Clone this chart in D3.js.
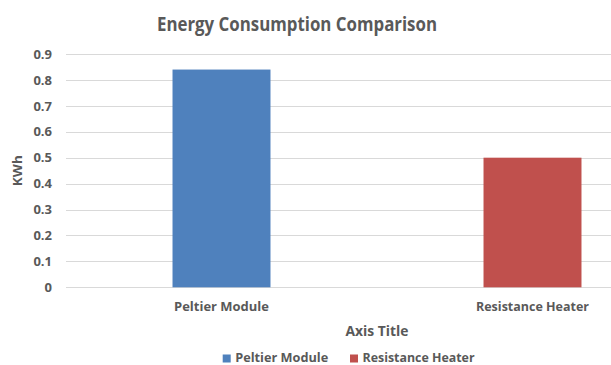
<!DOCTYPE html>
<html>
<head>
<meta charset="utf-8">
<script src="https://cdn.jsdelivr.net/npm/d3@7"></script>
<style>
  html, body { margin: 0; padding: 0; background: #ffffff; }
  svg { display: block; }
  text { font-family: "Open Sans", "Noto Sans", sans-serif; fill: #595959; }
</style>
</head>
<body>
<svg id="chart" width="611" height="365"></svg>
<script>
// Energy use per heating method, in kWh
const categories = ["Peltier Module", "Resistance Heater"];
const values = [0.84, 0.5];
const seriesColors = ["#4f81bd", "#c0504d"];
const yTicks = [0, 0.1, 0.2, 0.3, 0.4, 0.5, 0.6, 0.7, 0.8, 0.9];
const titleText = "Energy Consumption Comparison";
const yAxisTitle = "KWh";
const xAxisTitle = "Axis Title";

const svg = d3.select("#chart");

// Plot area (the right side runs past the visible frame)
const plot = { left: 66, right: 688, top: 54, bottom: 287.3 };

const x = d3.scaleBand()
  .domain(categories)
  .range([plot.left, plot.right])
  .paddingInner(0.685)
  .paddingOuter(0.3425);

const y = d3.scaleLinear()
  .domain([0, 0.9])
  .range([plot.bottom, plot.top]);

// Horizontal gridlines
svg.append("g")
  .selectAll("line")
  .data(yTicks)
  .join("line")
  .attr("x1", plot.left)
  .attr("x2", plot.right)
  .attr("y1", d => Math.round(y(d)) + 0.5)
  .attr("y2", d => Math.round(y(d)) + 0.5)
  .attr("stroke", "#d9d9d9")
  .attr("stroke-width", 1);

// Y axis tick labels
const yAxis = d3.axisLeft(y)
  .tickValues(yTicks)
  .tickFormat(d => d === 0 ? "0" : d3.format(".1f")(d))
  .tickSize(0)
  .tickPadding(14);

const gy = svg.append("g")
  .attr("transform", `translate(${plot.left},0)`)
  .call(yAxis);
gy.select(".domain").remove();
gy.selectAll("text")
  .attr("font-size", 13)
  .attr("font-weight", 700)
  .attr("fill", "#595959")
  .attr("font-family", "'Open Sans', sans-serif");

// Bars
svg.append("g")
  .selectAll("rect")
  .data(categories)
  .join("rect")
  .attr("x", d => x(d))
  .attr("width", x.bandwidth())
  .attr("y", (d, i) => y(values[i]))
  .attr("height", (d, i) => plot.bottom - y(values[i]))
  .attr("fill", (d, i) => seriesColors[i]);

// X axis category labels
const xAxis = d3.axisBottom(x).tickSize(0).tickPadding(15);
const gx = svg.append("g")
  .attr("transform", `translate(0,${plot.bottom})`)
  .call(xAxis);
gx.select(".domain").remove();
gx.selectAll("text")
  .attr("font-size", 12.5)
  .attr("font-weight", 700)
  .attr("fill", "#595959")
  .attr("font-family", "'Open Sans', sans-serif")
  .attr("textLength", d => d === "Peltier Module" ? 95 : 113)
  .attr("lengthAdjust", "spacingAndGlyphs");

// Chart title
svg.append("text")
  .attr("x", 297)
  .attr("y", 30.5)
  .attr("text-anchor", "middle")
  .attr("font-size", 19)
  .attr("font-weight", 700)
  .attr("textLength", 280)
  .attr("lengthAdjust", "spacingAndGlyphs")
  .text(titleText);

// Y axis title
svg.append("text")
  .attr("transform", `translate(22,${(plot.top + plot.bottom) / 2}) rotate(-90)`)
  .attr("text-anchor", "middle")
  .attr("font-size", 13)
  .attr("font-weight", 700)
  .attr("textLength", 31)
  .attr("lengthAdjust", "spacingAndGlyphs")
  .text(yAxisTitle);

// X axis title
svg.append("text")
  .attr("x", (plot.left + plot.right) / 2)
  .attr("y", 336)
  .attr("text-anchor", "middle")
  .attr("font-size", 13.5)
  .attr("font-weight", 700)
  .attr("textLength", 63)
  .attr("lengthAdjust", "spacingAndGlyphs")
  .text(xAxisTitle);

// Legend
const legendItems = [
  { name: categories[0], color: seriesColors[0], x: 222.7, w: 93 },
  { name: categories[1], color: seriesColors[1], x: 350, w: 112 }
];
const lg = svg.append("g");
const li = lg.selectAll("g").data(legendItems).join("g")
  .attr("transform", d => `translate(${d.x},0)`);
li.append("rect")
  .attr("x", 0).attr("y", 354.5)
  .attr("width", 8).attr("height", 8)
  .attr("fill", d => d.color);
li.append("text")
  .attr("x", 12.5)
  .attr("y", 361.5)
  .attr("font-size", 12)
  .attr("font-weight", 700)
  .attr("textLength", d => d.w)
  .attr("lengthAdjust", "spacingAndGlyphs")
  .text(d => d.name);
</script>
</body>
</html>
